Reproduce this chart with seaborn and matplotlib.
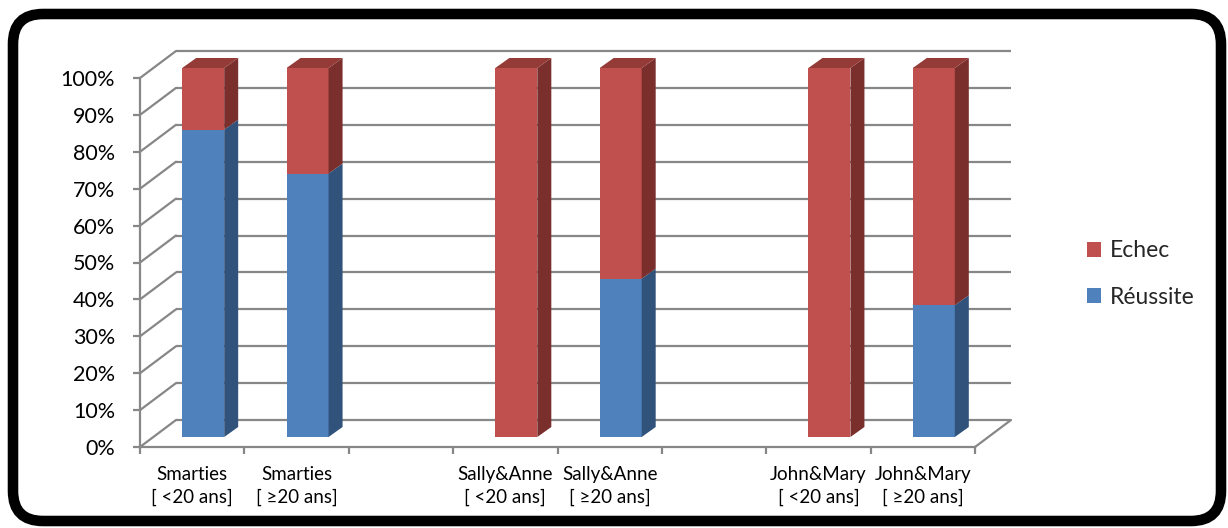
import numpy as np
import pandas as pd
import matplotlib
matplotlib.use("Agg")
import matplotlib.pyplot as plt
import matplotlib.transforms as mtransforms
from matplotlib.patches import Polygon, FancyBboxPatch
import seaborn as sns

# categories (blank slots keep the gaps between the three tests)
categories = ["Smarties\n[ <20 ans]", "Smarties\n[ \u226520 ans]", " ",
              "Sally&Anne\n[ <20 ans]", "Sally&Anne\n[ \u226520 ans]", "  ",
              "John&Mary\n[ <20 ans]", "John&Mary\n[ \u226520 ans]"]
reussite = [83.3, 71.4, None, 0.0, 42.9, None, 0.0, 35.7]
echec = [16.7, 28.6, None, 100.0, 57.1, None, 100.0, 64.3]
yticks = [0, 10, 20, 30, 40, 50, 60, 70, 80, 90, 100]

sns.set_theme(style="white")
plt.rcParams["font.family"] = ["Lato", "DejaVu Sans"]

df = pd.DataFrame({"cat": categories, "Réussite": reussite, "Echec": echec}).dropna()
df["total"] = df["Réussite"] + df["Echec"]

W, H = 1228, 528
fig = plt.figure(figsize=(W / 100, H / 100), dpi=100)
# axes box = front plane of the 3d chart
ax = fig.add_axes([140 / W, (H - 447) / H, (975 - 140) / W, (447 - 78) / H])
ax.set_xlim(-0.5, 7.5)
ax.set_ylim(0, 100)

px_x = (975 - 140) / 8.0      # pixels per slot
px_y = (447 - 78) / 100.0     # pixels per percent
# depth of the walls and bars, in data units
DXW, DYW = 36 / px_x, 27 / px_y
BX, BY = 11 / px_x, 10 / px_y
DXB, DYB = 14 / px_x, 10 / px_y

red, red_side, red_top = "#C0504D", "#7A2F2D", "#943A37"
blue, blue_side = "#4F81BD", "#31527A"
grid = "#878787"

sns.barplot(data=df, x="cat", y="total", order=categories, color=red,
            saturation=1, width=42 / px_x, label="Echec", ax=ax, zorder=3,
            linewidth=0)
sns.barplot(data=df, x="cat", y="Réussite", order=categories, color=blue,
            saturation=1, width=42 / px_x, label="Réussite", ax=ax, zorder=3,
            linewidth=0)

# back wall grid lines, left wall obliques, floor edge
for v in yticks:
    ax.plot([-0.5 + DXW, 7.5 + DXW], [v + DYW, v + DYW], color=grid, lw=1.6,
            clip_on=False, zorder=0, solid_capstyle="butt")
    ax.plot([-0.5, -0.5 + DXW], [v, v + DYW], color=grid, lw=1.6,
            clip_on=False, zorder=0)
ax.plot([7.5, 7.5 + DXW], [0, DYW], color=grid, lw=1.6, clip_on=False, zorder=0)

# 3d faces of the bars
for r, b in zip(ax.containers[0], ax.containers[1]):
    ht, hb = r.get_height(), b.get_height()
    for p in (r, b):
        p.set_x(p.get_x() + BX)
        p.set_y(BY)
    x0 = r.get_x()
    x1 = x0 + r.get_width()
    y0 = BY
    faces = []
    if hb > 0:
        faces.append(([(x1, y0), (x1 + DXB, y0 + DYB), (x1 + DXB, y0 + hb + DYB),
                       (x1, y0 + hb)], blue_side))
    faces.append(([(x1, y0 + hb), (x1 + DXB, y0 + hb + DYB),
                   (x1 + DXB, y0 + ht + DYB), (x1, y0 + ht)], red_side))
    faces.append(([(x0, y0 + ht), (x0 + DXB, y0 + ht + DYB),
                   (x1 + DXB, y0 + ht + DYB), (x1, y0 + ht)], red_top))
    for pts, c in faces:
        ax.add_patch(Polygon(pts, closed=True, facecolor=c, edgecolor="none",
                             zorder=3, clip_on=False))

for p in ax.containers[0].patches + ax.containers[1].patches:
    p.set_clip_on(False)

# axes
sns.despine(ax=ax, top=True, right=True)
for s in ("left", "bottom"):
    ax.spines[s].set_color(grid)
    ax.spines[s].set_linewidth(1.6)
ax.set_yticks(yticks, [f"{v}%" for v in yticks])
ax.set_xticks(range(len(categories)), categories)
ax.set_xticks(np.arange(-0.5, len(categories), 1), minor=True)
ax.tick_params(axis="y", length=5, width=1.6, color=grid, pad=13, labelsize=15.5,
               labelcolor="black", left=True)
ax.tick_params(axis="x", which="major", length=0, pad=14, labelsize=13.5,
               labelcolor="black")
ax.tick_params(axis="x", which="minor", length=5, width=1.6, color=grid,
               bottom=True)
for t in ax.get_xticklabels():
    t.set_linespacing(1.35)
ax.set_xlabel("")
ax.set_ylabel("")
ax.grid(False)

ax.legend(loc="center left", bbox_to_anchor=(1066 / W, 1 - 274 / H),
          bbox_transform=fig.transFigure, frameon=False, fontsize=16.5,
          handlelength=0.62, handleheight=0.62, handletextpad=0.4,
          labelspacing=1.1)

# rounded black frame around the chart
frame = FancyBboxPatch((13, 7), 1208, 507, boxstyle="round,pad=0,rounding_size=30",
                       transform=mtransforms.IdentityTransform(), facecolor="none",
                       edgecolor="black", linewidth=7.6)
fig.add_artist(frame)

fig.savefig("out.png", dpi=100)
